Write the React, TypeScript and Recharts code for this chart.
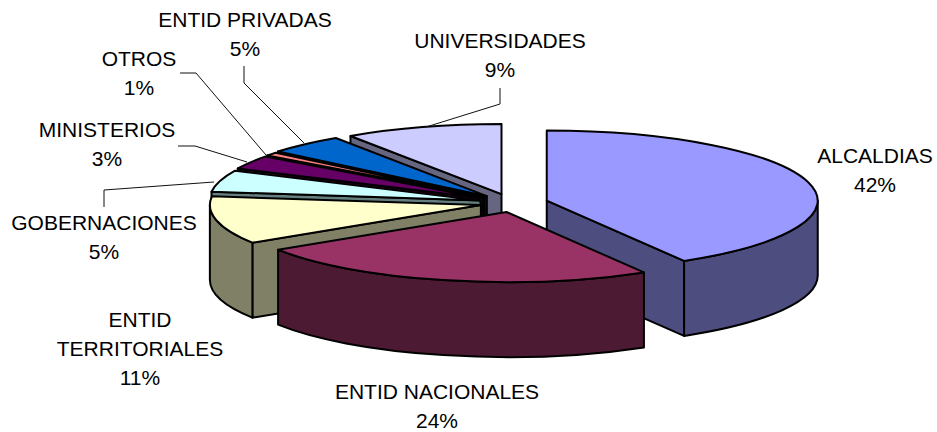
import React from "react";
import { PieChart, Pie } from "recharts";

// Chart data
const categories = ["ALCALDIAS", "ENTID NACIONALES", "ENTID TERRITORIALES", "GOBERNACIONES", "MINISTERIOS", "OTROS", "ENTID PRIVADAS", "UNIVERSIDADES"];
const values = [41.5, 24.4, 11, 5, 3.2, 0.8, 4.6, 9.4];
const percentLabels = ["42%", "24%", "11%", "5%", "3%", "1%", "5%", "9%"];
const topColors = ["#9999FF", "#993366", "#FFFFCC", "#CCFFFF", "#660066", "#FF8080", "#0066CC", "#CCCCFF"];
const wallColors = ["#4D4D80", "#4D1A33", "#808066", "#668080", "#330033", "#804040", "#003366", "#666680"];
const paintOrder = [7, 6, 5, 4, 3, 2, 0, 1];

// Label layout (styles and positions only)
const labelLines: string[][] = [["ALCALDIAS"], ["ENTID NACIONALES"], ["ENTID", "TERRITORIALES"], ["GOBERNACIONES"], ["MINISTERIOS"], ["OTROS"], ["ENTID PRIVADAS"], ["UNIVERSIDADES"]];
const labelCenters = [[875, 163], [437, 399], [140, 327], [104, 230], [107, 137], [139, 66], [245, 27], [500, 48]];
const leaders: (string | null)[] = [null, null, null, "104,207 104,190 214,182", "178,146 195,146 247,162", "180,73 196,73 266,155", "244,66 244,83 304,143", "500,88 500,104 426,127"];
const sliceNudgeX = [1, 4, 5, 4, 3, 2, 0, 1];

const W = 937, H = 432, CX = 511, CY = 203, RX = 271, RATIO = 70 / 271, DEPTH = 75, EXPLODE = 36, LINE = 29;

const rad = (d: number) => (d * Math.PI) / 180;

function Slice3D(p: any) {
  const t0 = 90 - p.startAngle;
  const t1 = 90 - p.endAngle;
  const mid = (t0 + t1) / 2;
  const rx = p.outerRadius;
  const ry = rx * RATIO;
  const ax = p.cx + EXPLODE * Math.sin(rad(mid)) + sliceNudgeX[p.index];
  const ay = p.cy - EXPLODE * RATIO * Math.cos(rad(mid));
  const pt = (t: number, dz = 0) => [ax + rx * Math.sin(rad(t)), ay - ry * Math.cos(rad(t)) + dz];
  const f = (q: number[]) => `${q[0].toFixed(2)} ${q[1].toFixed(2)}`;
  const arc = (from: number, to: number, dz: number) => {
    const sweep = to > from ? 1 : 0;
    const large = Math.abs(to - from) > 180 ? 1 : 0;
    return `A ${rx} ${ry} 0 ${large} ${sweep} ${f(pt(to, dz))}`;
  };
  const apex = [ax, ay];
  const apexLow = [ax, ay + DEPTH];
  const common = { stroke: "#000", strokeWidth: 2, strokeLinejoin: "round" as const };
  const wall = wallColors[p.index];
  const els: React.ReactNode[] = [];
  if (Math.sin(rad(t0)) < -1e-6) {
    els.push(<path key="s" fill={wall} {...common} d={`M ${f(apex)} L ${f(pt(t0))} L ${f(pt(t0, DEPTH))} L ${f(apexLow)} Z`} />);
  }
  if (Math.sin(rad(t1)) > 1e-6) {
    els.push(<path key="e" fill={wall} {...common} d={`M ${f(apex)} L ${f(pt(t1))} L ${f(pt(t1, DEPTH))} L ${f(apexLow)} Z`} />);
  }
  const a = Math.max(t0, 90);
  const b = Math.min(t1, 270);
  if (b > a) {
    els.push(<path key="o" fill={wall} {...common} d={`M ${f(pt(a))} ${arc(a, b, 0)} L ${f(pt(b, DEPTH))} ${arc(b, a, DEPTH)} Z`} />);
  }
  els.push(<path key="t" fill={topColors[p.index]} {...common} d={`M ${f(apex)} L ${f(pt(t0))} ${arc(t0, t1, 0)} Z`} />);
  return <g>{els}</g>;
}

function SliceLabel(p: any) {
  const i = p.index;
  const lines = [...labelLines[i], percentLabels[i]];
  const [x, y] = labelCenters[i];
  return (
    <g>
      {leaders[i] && <polyline points={leaders[i] as string} fill="none" stroke="#111" strokeWidth={1} />}
      {lines.map((s, k) => (
        <text key={k} x={x} y={y + k * LINE} textAnchor="middle" fontFamily="Liberation Sans, Arial, sans-serif" fontSize={21} fill="#000">{s}</text>
      ))}
    </g>
  );
}

const rows = categories.map((name, i) => ({ name, value: values[i] }));

export default function App() {
  return (
    <div style={{ position: "absolute", left: 0, top: 0, width: W, height: H, background: "#fff" }}>
      <PieChart width={W} height={H} margin={{ top: 0, right: 0, bottom: 0, left: 0 }}>
        {paintOrder.map((idx) => (
          <Pie
            key={idx}
            data={rows}
            dataKey="value"
            nameKey="name"
            cx={CX}
            cy={CY}
            outerRadius={RX}
            startAngle={90}
            endAngle={-270}
            isAnimationActive={false}
            shape={(p: any) => (p.index === idx ? <Slice3D {...p} /> : <g />)}
            label={false}
            labelLine={false}
            stroke="none"
          />
        ))}
        <Pie
          data={rows}
          dataKey="value"
          cx={CX}
          cy={CY}
          outerRadius={RX}
          startAngle={90}
          endAngle={-270}
          isAnimationActive={false}
          shape={() => <g />}
          label={(p: any) => <SliceLabel {...p} />}
          labelLine={false}
        />
      </PieChart>
    </div>
  );
}
